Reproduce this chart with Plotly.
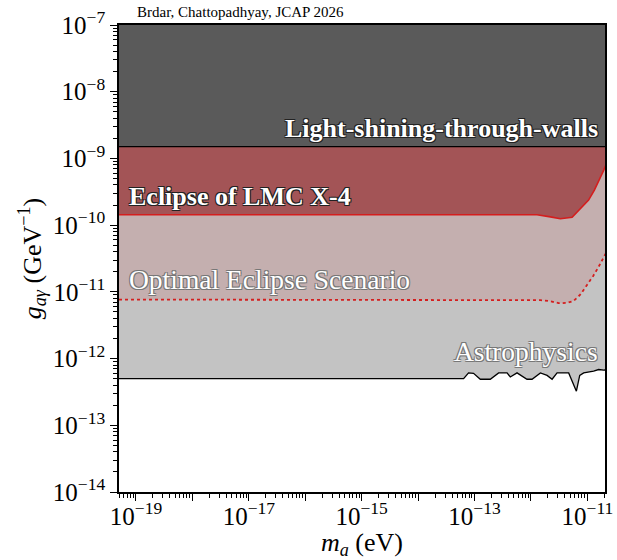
import plotly.graph_objects as go

# ---------------- data ----------------
# axis limits
m_min, m_max = 5e-20, 2.05e-11
g_min, g_max = 1e-14, 1e-7

# Light-shining-through-walls bound (flat)
lsw_g = 1.5e-9

# Eclipse of LMC X-4 (solid red)
lmc_m = [5e-20, 1.28e-12, 2.21e-12, 3.32e-12, 5.36e-12, 7.52e-12, 1.05e-11,
         1.33e-11, 1.65e-11, 1.95e-11, 2.2e-11]
lmc_g = [1.43e-10, 1.43e-10, 1.33e-10, 1.245e-10, 1.31e-10, 1.78e-10, 2.37e-10,
         3.35e-10, 4.85e-10, 6.68e-10, 8.6e-10]

# Optimal eclipse scenario (dotted red)
opt_m = [5e-20, 1.47e-12, 2.21e-12, 3.10e-12, 4.37e-12, 5.71e-12, 7.52e-12,
         9.88e-12, 1.26e-11, 1.58e-11, 1.95e-11, 2.2e-11]
opt_g = [7.67e-12, 7.5e-12, 7.24e-12, 6.76e-12, 6.84e-12, 7.33e-12, 9.12e-12,
         1.26e-11, 1.72e-11, 2.37e-11, 3.27e-11, 4.0e-11]

# Astrophysics bound (black)
ast_m = [5e-20, 6.4e-14, 7.83e-14, 9.6e-14, 1.265e-13, 1.9e-13, 2.67e-13,
         3.77e-13, 4.3e-13, 5.66e-13, 8.5e-13, 1.045e-12, 1.47e-12, 1.93e-12,
         2.37e-12, 2.9e-12, 4.66e-12, 6.38e-12, 7.31e-12, 8.6e-12, 1.29e-11,
         1.58e-11, 1.95e-11, 2.2e-11]
ast_g = [5.0e-13, 5.0e-13, 6.1e-13, 6.0e-13, 4.9e-13, 4.9e-13, 6.1e-13,
         6.1e-13, 5.3e-13, 6.1e-13, 4.9e-13, 4.9e-13, 6.1e-13, 5.6e-13,
         4.9e-13, 6.1e-13, 6.1e-13, 3.25e-13, 5.6e-13, 6.1e-13, 6.5e-13,
         6.85e-13, 6.7e-13, 6.8e-13]

# tick exponents
y_exps = list(range(-14, -6))
x_exps = list(range(-20, -10))
x_label_exps = [-19, -17, -15, -13, -11]

labels = {
    "lsw": "Light-shining-through-walls",
    "lmc": "Eclipse of LMC X-4",
    "opt": "Optimal Eclipse Scenario",
    "ast": "Astrophysics",
}
credit = "Brdar, Chattopadhyay, JCAP 2026"

# ---------------- styling ----------------
C_DARK = "#5a5a5a"
C_RED_FILL = "#a35456"
C_PINK = "#c4afaf"
C_GRAY = "#c3c3c3"
C_RED = "#d41e1e"
FONT = "Liberation Serif"

fig = go.Figure()


def band(xs, ys, top, color):
    px = list(xs) + [xs[-1], xs[0]]
    py = list(ys) + [top, top]
    fig.add_trace(go.Scatter(x=px, y=py, fill="toself", fillcolor=color,
                             mode="lines", line=dict(width=0),
                             hoverinfo="skip", showlegend=False))


band(ast_m, ast_g, lsw_g, C_GRAY)
band(opt_m, opt_g, lsw_g, C_PINK)
band(lmc_m, lmc_g, lsw_g, C_RED_FILL)
band([m_min, m_max * 1.2], [lsw_g, lsw_g], g_max, C_DARK)

# boundary lines
fig.add_trace(go.Scatter(x=[m_min, m_max * 1.2], y=[lsw_g, lsw_g], mode="lines",
                         line=dict(color="black", width=1.3), showlegend=False))
fig.add_trace(go.Scatter(x=lmc_m, y=lmc_g, mode="lines",
                         line=dict(color=C_RED, width=1.6), showlegend=False))
fig.add_trace(go.Scatter(x=opt_m, y=opt_g, mode="lines",
                         line=dict(color=C_RED, width=1.8, dash="dot"),
                         showlegend=False))
fig.add_trace(go.Scatter(x=ast_m, y=ast_g, mode="lines",
                         line=dict(color="black", width=1.3), showlegend=False))


def pw(e):
    return "10<sup>\u2212%d</sup>" % (-e)


y_minor = [k * 10.0 ** e for e in y_exps[:-1] for k in range(2, 10)]
x_minor = [k * 10.0 ** e for e in x_exps for k in range(2, 10)]

axis_common = dict(type="log", showgrid=False, zeroline=False, automargin=False,
                   showline=True, linecolor="black", linewidth=1.6, mirror=True,
                   ticks="outside", ticklen=7, tickwidth=1.3, tickcolor="black",
                   tickfont=dict(family=FONT, size=25, color="black"))

fig.update_xaxes(
    range=[-19.301, -10.688],
    tickmode="array",
    tickvals=[10.0 ** e for e in x_exps],
    ticktext=[pw(e) if e in x_label_exps else " " for e in x_exps],
    ticklabelstandoff=-6,
    minor=dict(tickmode="array", tickvals=x_minor, ticks="outside", ticklen=4,
               tickwidth=1, tickcolor="black"),
    title=dict(text="<i>m</i><sub><i>a</i></sub> (eV)",
               font=dict(family=FONT, size=26, color="black")),
    **axis_common,
)
fig.update_yaxes(
    range=[-14, -7],
    tickmode="array",
    tickvals=[10.0 ** e for e in y_exps],
    ticktext=[pw(e) for e in y_exps],
    minor=dict(tickmode="array", tickvals=y_minor, ticks="outside", ticklen=4,
               tickwidth=1, tickcolor="black"),
    title=dict(text="<i>g</i><sub><i>a\u03b3</i></sub> (GeV<sup>\u22121</sup>)",
               font=dict(family=FONT, size=26, color="black"), standoff=4),
    **axis_common,
)

dark_outline = ("1px 1px 0 #222, -1px -1px 0 #222, 1px -1px 0 #222, "
                "-1px 1px 0 #222")
gray_outline = ("1px 1px 0 #777, -1px -1px 0 #777, 1px -1px 0 #777, "
                "-1px 1px 0 #777")

ann = [
    dict(text=labels["lsw"], x=0.9897, y=0.7794, xanchor="right",
         font=dict(family=FONT, size=26, color="white", weight="bold",
                   shadow=dark_outline)),
    dict(text=labels["lmc"], x=0.0165, y=0.6338, xanchor="left",
         font=dict(family=FONT, size=26, color="white", weight="bold",
                   shadow=dark_outline)),
    dict(text=labels["opt"], x=0.0165, y=0.455, xanchor="left",
         font=dict(family=FONT, size=27.5, color="white", shadow=gray_outline)),
    dict(text=labels["ast"], x=0.9897, y=0.2998, xanchor="right",
         font=dict(family=FONT, size=27.5, color="white", shadow=gray_outline)),
    dict(text=credit, x=0.033, y=1.0268, xanchor="left",
         font=dict(family=FONT, size=15, color="black")),
]
for a in ann:
    fig.add_annotation(xref="paper", yref="paper", yanchor="middle",
                       showarrow=False, **a)

fig.update_layout(
    width=617, height=560,
    margin=dict(l=119, r=12, t=25, b=68, autoexpand=False),
    paper_bgcolor="white", plot_bgcolor="white",
    showlegend=False,
)

fig.write_html(
    "out.html",
    config={"displayModeBar": False},
    post_script="document.body.style.margin='0';document.body.style.overflow='hidden';",
)
